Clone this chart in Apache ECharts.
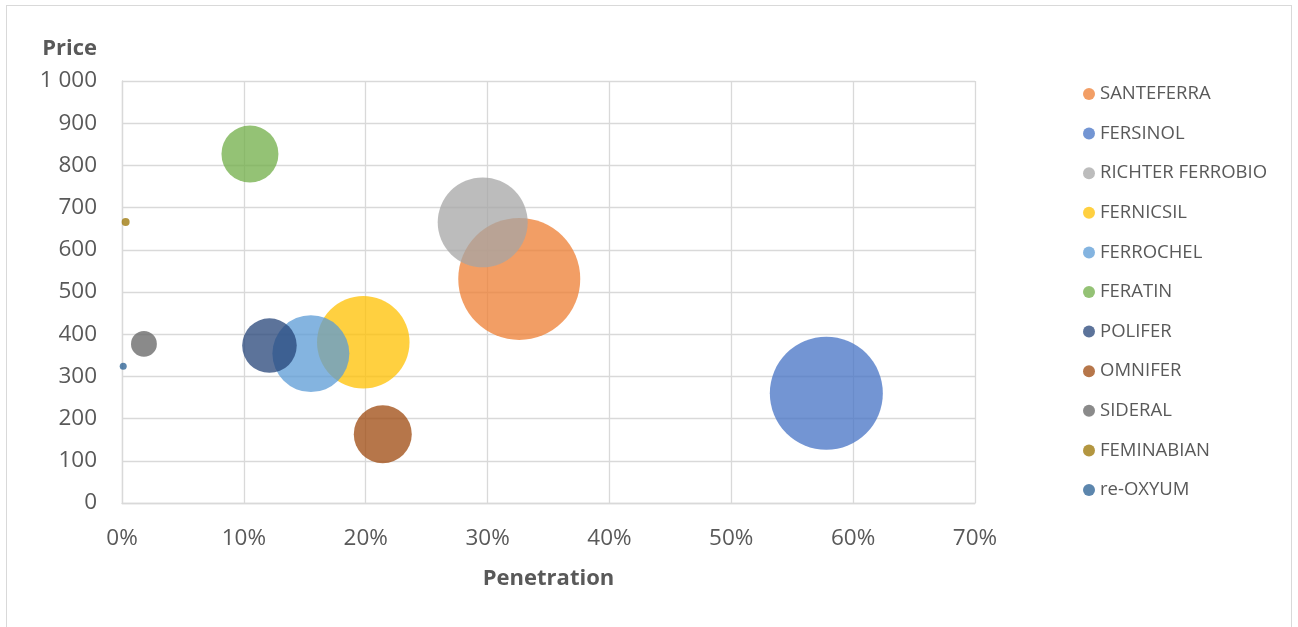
<!DOCTYPE html>
<html>
<head>
<meta charset="utf-8">
<script src="https://cdn.jsdelivr.net/npm/echarts@6/dist/echarts.min.js"></script>
<style>
  html, body { margin: 0; padding: 0; background: #ffffff; }
  #frame { position: absolute; left: 6px; top: 5px; width: 1284px; height: 640px; border: 1px solid #d9d9d9; }
  #chart-container { position: absolute; left: 0; top: 0; width: 1298px; height: 627px; }
</style>
</head>
<body>
<div id="frame"></div>
<div id="chart-container"></div>
<script>
// brands, penetration (%), price, bubble size
const marcas = ['SANTEFERRA', 'FERSINOL', 'RICHTER FERROBIO', 'FERNICSIL', 'FERROCHEL',
  'FERATIN', 'POLIFER', 'OMNIFER', 'SIDERAL', 'FEMINABIAN', 're-OXYUM'];
const penetracion = [32.6, 57.8, 29.6, 19.8, 15.5, 10.5, 12.1, 21.4, 1.8, 0.3, 0.1];
const precio = [531, 260, 665, 381, 354, 827, 373, 163, 377, 666, 324];
const tamano = [100, 85.8, 54.4, 57.5, 39.8, 21.8, 20.0, 22.6, 4.5, 0.43, 0.33];
const colores = ['#ED7D31', '#4472C4', '#A5A5A5', '#FFC000', '#5B9BD5', '#70AD47',
  '#264478', '#9E480E', '#636363', '#997300', '#255E91'];

let myChart = echarts.init(document.getElementById('chart-container'), null, {
  renderer: 'canvas'
});

const series = marcas.map((nombre, i) => ({
  name: nombre,
  type: 'scatter',
  clip: false,
  data: [[penetracion[i], precio[i], tamano[i]]],
  symbolSize: (val) => Math.sqrt(val[2]) * 12.2,
  itemStyle: { color: colores[i], opacity: 0.75 }
}));

const textoGris = '#595959';
const fuente = '"Open Sans", sans-serif';

const opciones = {
  animation: false,
  backgroundColor: 'transparent',
  grid: { left: 122, right: 323, top: 81, bottom: 124, containLabel: false },
  legend: {
    orient: 'vertical',
    left: 1078,
    top: 79,
    icon: 'circle',
    itemWidth: 12,
    itemHeight: 12,
    itemGap: 19.6,
    textStyle: { color: textoGris, fontSize: 18.5, fontFamily: fuente, lineHeight: 20 },
    data: marcas
  },
  xAxis: {
    type: 'value',
    min: 0,
    max: 70,
    interval: 10,
    name: 'Penetration',
    nameLocation: 'middle',
    nameGap: 64,
    nameTextStyle: { color: textoGris, fontSize: 22, fontWeight: 'bold', fontFamily: fuente, lineHeight: 24 },
    axisLine: { show: true, lineStyle: { color: '#d9d9d9', width: 1.3 } },
    axisTick: { show: false },
    axisLabel: {
      color: textoGris, fontSize: 22.5, fontFamily: fuente, margin: 24, lineHeight: 24,
      formatter: (v) => Math.round(v) + '%'
    },
    splitLine: { show: true, lineStyle: { color: '#d9d9d9', width: 1.3 } }
  },
  yAxis: {
    type: 'value',
    min: 0,
    max: 1000,
    interval: 100,
    name: 'Price',
    nameLocation: 'end',
    nameGap: 20,
    nameTextStyle: {
      color: textoGris, fontSize: 22, fontWeight: 'bold', fontFamily: fuente,
      lineHeight: 24, align: 'right', padding: [0, 25, 0, 0]
    },
    axisLine: { show: true, lineStyle: { color: '#d9d9d9', width: 1.3 } },
    axisTick: { show: false },
    axisLabel: {
      color: textoGris, fontSize: 22.5, fontFamily: fuente, margin: 25,
      formatter: (v) => v >= 1000 ? '1 000' : String(v)
    },
    splitLine: { show: true, lineStyle: { color: '#d9d9d9', width: 1.3 } }
  },
  series: series
};

myChart.setOption(opciones);
window.addEventListener('resize', myChart.resize);
</script>
</body>
</html>
